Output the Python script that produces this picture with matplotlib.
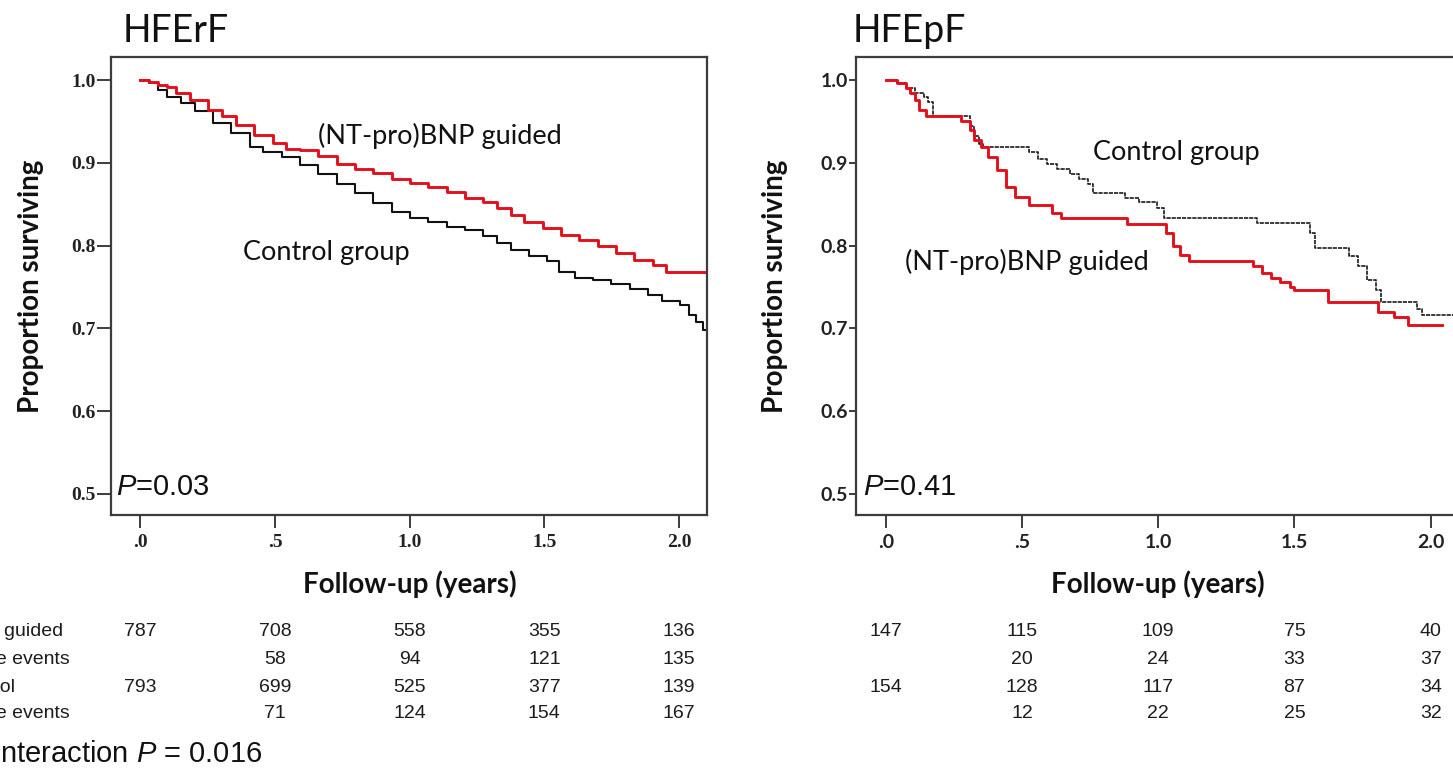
import matplotlib
matplotlib.use("Agg")
import matplotlib.pyplot as plt
import matplotlib.transforms as mtransforms

plt.rcParams['mathtext.fontset'] = 'custom'
plt.rcParams['mathtext.it'] = 'Liberation Sans:italic'
plt.rcParams['mathtext.rm'] = 'Liberation Sans'

# ---- survival curves (time in years, proportion) ----
rf_guided_t = [0.0, 0.031, 0.066, 0.100, 0.134, 0.185, 0.253, 0.304, 0.355, 0.423,
               0.491, 0.542, 0.593, 0.661, 0.729, 0.797, 0.865, 0.933, 1.001, 1.069,
               1.137, 1.205, 1.273, 1.324, 1.375, 1.426, 1.494, 1.562, 1.630, 1.698,
               1.766, 1.834, 1.902, 1.953, 2.10]
rf_guided_s = [1.000, 0.998, 0.994, 0.991, 0.984, 0.976, 0.964, 0.956, 0.946, 0.934,
               0.924, 0.917, 0.915, 0.908, 0.899, 0.893, 0.888, 0.881, 0.876, 0.871,
               0.865, 0.857, 0.853, 0.845, 0.837, 0.829, 0.821, 0.813, 0.807, 0.799,
               0.791, 0.783, 0.777, 0.768, 0.768]

rf_control_t = [0.0, 0.031, 0.066, 0.100, 0.151, 0.202, 0.270, 0.338, 0.406, 0.457,
                0.525, 0.593, 0.661, 0.729, 0.797, 0.865, 0.933, 1.001, 1.069, 1.137,
                1.205, 1.273, 1.324, 1.375, 1.443, 1.511, 1.553, 1.613, 1.681, 1.749,
                1.817, 1.885, 1.936, 2.004, 2.038, 2.064, 2.089, 2.10]
rf_control_s = [1.000, 0.996, 0.988, 0.980, 0.972, 0.962, 0.948, 0.936, 0.919, 0.913,
                0.907, 0.897, 0.887, 0.875, 0.863, 0.851, 0.841, 0.833, 0.828, 0.823,
                0.819, 0.811, 0.803, 0.795, 0.787, 0.781, 0.768, 0.761, 0.758, 0.754,
                0.747, 0.740, 0.733, 0.728, 0.716, 0.708, 0.698, 0.698]

pf_guided_t = [0.0, 0.040, 0.073, 0.090, 0.107, 0.124, 0.149, 0.275, 0.308, 0.325,
               0.350, 0.375, 0.409, 0.442, 0.476, 0.526, 0.610, 0.644, 0.887, 1.029,
               1.054, 1.079, 1.113, 1.348, 1.381, 1.415, 1.448, 1.482, 1.499, 1.624,
               1.808, 1.867, 1.918, 2.043]
pf_guided_s = [1.000, 0.996, 0.990, 0.984, 0.976, 0.964, 0.956, 0.950, 0.940, 0.928,
               0.919, 0.907, 0.891, 0.871, 0.859, 0.849, 0.839, 0.833, 0.826, 0.815,
               0.799, 0.789, 0.781, 0.775, 0.767, 0.761, 0.756, 0.750, 0.746, 0.732,
               0.720, 0.714, 0.704, 0.704]

pf_control_t = [0.0, 0.040, 0.073, 0.107, 0.140, 0.157, 0.174, 0.308, 0.325, 0.342,
                0.358, 0.526, 0.560, 0.593, 0.627, 0.677, 0.711, 0.744, 0.761, 0.878,
                0.928, 0.995, 1.020, 1.364, 1.557, 1.574, 1.700, 1.733, 1.767, 1.800,
                1.817, 1.951, 1.968, 2.10]
pf_control_s = [1.000, 0.996, 0.990, 0.984, 0.980, 0.974, 0.957, 0.944, 0.932, 0.923,
                0.919, 0.913, 0.905, 0.899, 0.893, 0.887, 0.881, 0.875, 0.863, 0.857,
                0.853, 0.845, 0.833, 0.827, 0.815, 0.797, 0.787, 0.775, 0.758, 0.746,
                0.732, 0.724, 0.716, 0.716]

# ---- numbers at risk table ----
table_times = [0.0, 0.5, 1.0, 1.5, 2.0]
rf_guided_n = [787, 708, 558, 355, 136]
rf_guided_ev = [None, 58, 94, 121, 135]
rf_control_n = [793, 699, 525, 377, 139]
rf_control_ev = [None, 71, 124, 154, 167]
pf_guided_n = [147, 115, 109, 75, 40]
pf_guided_ev = [None, 20, 24, 33, 37]
pf_control_n = [154, 128, 117, 87, 34]
pf_control_ev = [None, 12, 22, 25, 32]
row_labels = ["(NT-pro)BNP guided", "Cumulative events", "Control", "Cumulative events"]

x_ticks = [0.0, 0.5, 1.0, 1.5, 2.0]
x_tick_labels = [".0", ".5", "1.0", "1.5", "2.0"]
y_ticks = [0.5, 0.6, 0.7, 0.8, 0.9, 1.0]
y_tick_labels = ["0.5", "0.6", "0.7", "0.8", "0.9", "1.0"]

W, H = 1453, 771
RED = "#e3101c"
SPINE = "#3c3c3c"
LABEL_FONT = ["Lato", "DejaVu Sans"]
ROW_Y = [632, 659, 687, 713]

fig = plt.figure(figsize=(W / 100, H / 100), dpi=100)


def px_box(x0, x1, y0, y1):
    """ axes rectangle from pixel edges (y measured from top) """
    return [x0 / W, 1 - y1 / H, (x1 - x0) / W, (y1 - y0) / H]


def setup_axes(ax, tick_font, ytick_len):
    ax.set_xlim(-0.109, 2.104)
    ax.set_ylim(0.4746, 1.0278)
    ax.set_xticks(x_ticks)
    ax.set_xticklabels(x_tick_labels)
    ax.set_yticks(y_ticks)
    ax.set_yticklabels(y_tick_labels)
    for sp in ax.spines.values():
        sp.set_color(SPINE)
        sp.set_linewidth(1.6)
    ax.tick_params(axis='x', length=9.5, width=1.4, color=SPINE, pad=4)
    ax.tick_params(axis='y', length=ytick_len, width=1.4, color=SPINE, pad=1)
    for lab in ax.get_xticklabels() + ax.get_yticklabels():
        lab.set_fontfamily(tick_font)
        lab.set_fontsize(14)
        lab.set_fontweight('bold')
        lab.set_color('#222222')
    ax.set_ylabel("Proportion surviving", fontsize=20, fontweight='bold',
                  family=LABEL_FONT, color='#111111')
    ax.set_xlabel("Follow-up (years)", fontsize=20, fontweight='bold',
                  family=LABEL_FONT, color='#111111')
    xmin, xmax = ax.get_xlim()
    ax.xaxis.set_label_coords((1.0 - xmin) / (xmax - xmin), -0.122)


def risk_table(ax, rows):
    trans = mtransforms.blended_transform_factory(ax.transData, fig.transFigure)
    for vals, yy in zip(rows, ROW_Y):
        for t, v in zip(table_times, vals):
            if v is None:
                continue
            ax.text(t, 1 - yy / H, str(v), transform=trans, ha='center', va='center',
                    fontsize=14, family="Liberation Sans", color='#1c1c1c',
                    clip_on=False)


# ---------------- HFErF ----------------
ax1 = fig.add_axes(px_box(111, 707, 57, 515))
setup_axes(ax1, "Liberation Serif", 10)
ax1.yaxis.set_label_coords(-0.112, 0.5)
ax1.step(rf_control_t, rf_control_s, where='post', color='#111111', lw=1.5)
ax1.step(rf_guided_t, rf_guided_s, where='post', color=RED, lw=2.1)
ax1.text(1.112, 0.933, "(NT-pro)BNP guided", ha='center', va='center',
         fontsize=19.5, family=LABEL_FONT, color='#111111')
ax1.text(0.691, 0.792, "Control group", ha='center', va='center',
         fontsize=19.5, family=LABEL_FONT, color='#111111')
ax1.text(-0.092, 0.509, "$P$=0.03", ha='left', va='center', fontsize=21,
         family="Liberation Sans", color='#111111')
risk_table(ax1, [rf_guided_n, rf_guided_ev, rf_control_n, rf_control_ev])
fig.text(123 / W, 1 - 42 / H, "HFErF", fontsize=27, family=LABEL_FONT,
         va='baseline', color='#111111')

# ---------------- HFEpF ----------------
ax2 = fig.add_axes(px_box(856, 1459, 57, 515))
setup_axes(ax2, "Lato", 5)
ax2.yaxis.set_label_coords(-0.112, 0.5)
ax2.step(pf_control_t, pf_control_s, where='post', color='#1a1a1a', lw=1.2,
         linestyle=(0, (2.5, 0.6)))
ax2.step(pf_guided_t, pf_guided_s, where='post', color=RED, lw=2.1)
ax2.text(1.066, 0.913, "Control group", ha='center', va='center',
         fontsize=19.5, family=LABEL_FONT, color='#111111')
ax2.text(0.518, 0.780, "(NT-pro)BNP guided", ha='center', va='center',
         fontsize=19.5, family=LABEL_FONT, color='#111111')
ax2.text(-0.085, 0.509, "$P$=0.41", ha='left', va='center', fontsize=21,
         family="Liberation Sans", color='#111111')
risk_table(ax2, [pf_guided_n, pf_guided_ev, pf_control_n, pf_control_ev])
fig.text(853 / W, 1 - 42 / H, "HFEpF", fontsize=27, family=LABEL_FONT,
         va='baseline', color='#111111')

# row labels, partly cut by the left edge as in the source
label_right = [63, 70, 15, 70]
for lab, xr, yy in zip(row_labels, label_right, ROW_Y):
    fig.text(xr / W, 1 - yy / H, lab, ha='right', va='center', fontsize=14,
             family="Liberation Sans", color='#1c1c1c')

fig.text(-8 / W, 1 - 762 / H, "Interaction $P$ = 0.016", ha='left', va='baseline',
         fontsize=21, family="Liberation Sans", color='#111111')

fig.savefig("out.png", dpi=100)
